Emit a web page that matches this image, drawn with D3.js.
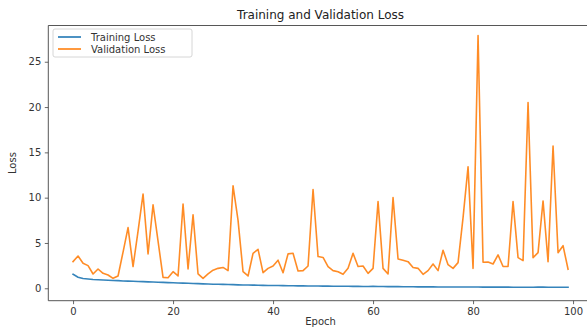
<!DOCTYPE html>
<html>
<head>
<meta charset="utf-8">
<script src="https://cdn.jsdelivr.net/npm/d3@7"></script>
<style>
  html, body { margin: 0; padding: 0; background: #fff; }
  svg { display: block; font-family: "DejaVu Sans", sans-serif; }
</style>
</head>
<body>
<svg id="chart" width="587" height="327"></svg>
<script>
const epochs = d3.range(0, 100);

const trainingLoss = [
  1.55, 1.22, 1.08, 1.02, 0.97, 0.94, 0.91, 0.88, 0.86, 0.84,
  0.81, 0.79, 0.77, 0.75, 0.73, 0.71, 0.69, 0.67, 0.65, 0.63,
  0.61, 0.59, 0.57, 0.55, 0.53, 0.51, 0.49, 0.47, 0.45, 0.44,
  0.43, 0.41, 0.40, 0.38, 0.37, 0.36, 0.35, 0.34, 0.32, 0.31,
  0.30, 0.30, 0.29, 0.28, 0.28, 0.27, 0.27, 0.26, 0.25, 0.25,
  0.24, 0.24, 0.23, 0.23, 0.22, 0.22, 0.21, 0.21, 0.20, 0.20,
  0.21, 0.19, 0.19, 0.18, 0.18, 0.18, 0.17, 0.17, 0.17, 0.16,
  0.16, 0.16, 0.16, 0.15, 0.15, 0.15, 0.15, 0.14, 0.14, 0.14,
  0.14, 0.14, 0.13, 0.13, 0.13, 0.13, 0.13, 0.13, 0.12, 0.12,
  0.12, 0.12, 0.12, 0.13, 0.15, 0.12, 0.12, 0.11, 0.11, 0.11
];

const validationLoss = [
  2.94, 3.56, 2.76, 2.50, 1.58, 2.13, 1.65, 1.47, 1.10, 1.36,
  4.00, 6.70, 2.40, 6.30, 10.4, 3.80, 9.20, 5.20, 1.20, 1.17,
  1.83, 1.36, 9.30, 2.13, 8.10, 1.58, 1.10, 1.58, 2.00, 2.20,
  2.30, 1.95, 11.3, 7.50, 1.83, 1.36, 3.86, 4.30, 1.72, 2.20,
  2.46, 3.10, 1.72, 3.80, 3.86, 1.90, 1.95, 2.46, 10.9, 3.50,
  3.40, 2.40, 1.95, 1.83, 1.54, 2.20, 3.86, 2.40, 2.46, 1.65,
  2.20, 9.56, 2.20, 1.58, 10.0, 3.23, 3.10, 2.94, 2.30, 2.20,
  1.54, 1.95, 2.68, 1.95, 4.20, 2.60, 2.20, 2.83, 7.80, 13.4,
  2.20, 27.9, 2.87, 2.90, 2.68, 3.68, 2.40, 2.40, 9.56, 3.38,
  3.05, 20.5, 3.38, 3.93, 9.64, 2.94, 15.7, 3.93, 4.70, 2.10
];

const xTicks = [0, 20, 40, 60, 80, 100];
const yTicks = [0, 5, 10, 15, 20, 25];
const seriesNames = ["Training Loss", "Validation Loss"];
const seriesColors = ["#1f77b4", "#ff7f0e"];

const svg = d3.select("#chart");
const mLeft = 48.3, mRight = 592.8, mTop = 25.5, mBottom = 300.7;

const x = d3.scaleLinear().domain([-4.95, 103.95]).range([mLeft, mRight]);
const y = d3.scaleLinear().domain([-1.37, 29.0]).range([mBottom, mTop]);

const textColor = "#333";

svg.append("defs").append("clipPath").attr("id", "clip")
  .append("rect").attr("x", mLeft).attr("y", mTop)
  .attr("width", mRight - mLeft).attr("height", mBottom - mTop);

const seriesData = [trainingLoss, validationLoss];
const line = d3.line().x((d, i) => x(epochs[i])).y(d => y(d));

const plot = svg.append("g").attr("clip-path", "url(#clip)");
seriesData.forEach((vals, k) => {
  plot.append("path")
    .datum(vals)
    .attr("fill", "none")
    .attr("stroke", seriesColors[k])
    .attr("stroke-width", 1.6)
    .attr("stroke-linejoin", "round")
    .attr("stroke-linecap", "square")
    .attr("opacity", 0.9)
    .attr("d", line);
});

const xAxis = svg.append("g").attr("transform", `translate(0,${mBottom})`)
  .call(d3.axisBottom(x).tickValues(xTicks).tickSize(3.5).tickPadding(3.5).tickSizeOuter(0));
const yAxis = svg.append("g").attr("transform", `translate(${mLeft},0)`)
  .call(d3.axisLeft(y).tickValues(yTicks).tickSize(3.5).tickPadding(3.5).tickSizeOuter(0));

[xAxis, yAxis].forEach(g => {
  g.selectAll("text").attr("font-size", 10).attr("fill", textColor)
    .attr("font-family", "DejaVu Sans, sans-serif");
  g.selectAll("line").attr("stroke", "#444").attr("stroke-width", 0.8);
  g.select(".domain").remove();
});

svg.append("path")
  .attr("d", `M${mRight},${mTop}H${mLeft}V${mBottom}H${mRight}`)
  .attr("fill", "none").attr("stroke", "#444").attr("stroke-width", 0.9);

svg.append("text").attr("x", (mLeft + mRight) / 2).attr("y", 19)
  .attr("text-anchor", "middle").attr("font-size", 12).attr("fill", "#222")
  .text("Training and Validation Loss");
svg.append("text").attr("x", (mLeft + mRight) / 2).attr("y", 325)
  .attr("text-anchor", "middle").attr("font-size", 10).attr("fill", textColor)
  .text("Epoch");
svg.append("text")
  .attr("transform", `translate(16,${(mTop + mBottom) / 2}) rotate(-90)`)
  .attr("text-anchor", "middle").attr("font-size", 10).attr("fill", textColor)
  .text("Loss");

const lg = svg.append("g").attr("transform", "translate(53,29)");
lg.append("rect").attr("width", 139).attr("height", 28).attr("rx", 2)
  .attr("fill", "#fff").attr("fill-opacity", 0.8)
  .attr("stroke", "#ccc").attr("stroke-width", 0.8);
seriesNames.forEach((name, i) => {
  const yy = 8 + i * 12;
  lg.append("line").attr("x1", 5).attr("x2", 28).attr("y1", yy).attr("y2", yy)
    .attr("stroke", seriesColors[i]).attr("stroke-width", 1.6);
  lg.append("text").attr("x", 38).attr("y", yy + 3.5)
    .attr("font-size", 10).attr("fill", textColor).text(name);
});
</script>
</body>
</html>
